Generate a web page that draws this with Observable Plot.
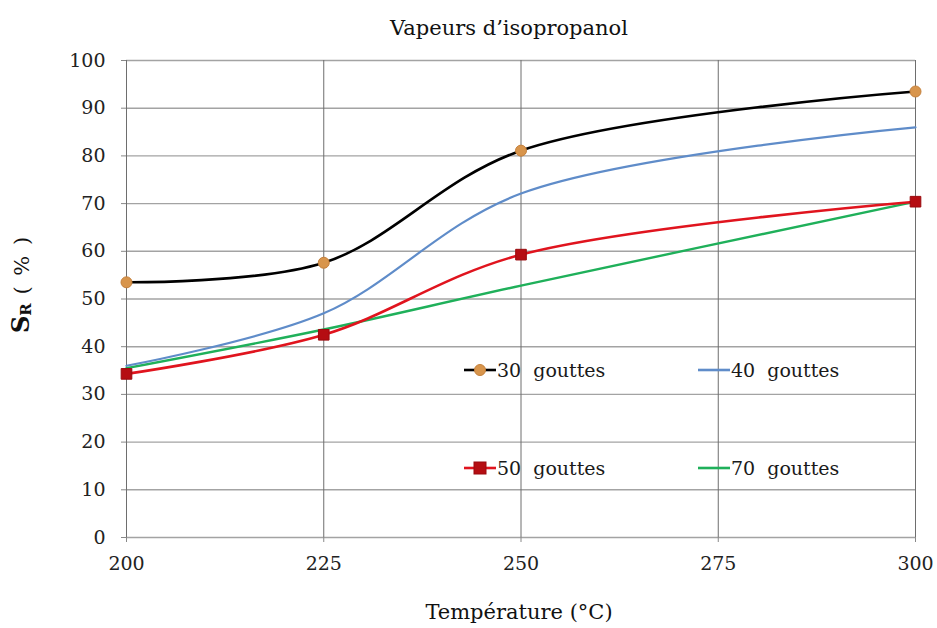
<!DOCTYPE html>
<html><head><meta charset="utf-8">
<script src="https://cdn.jsdelivr.net/npm/d3@7"></script>
<script src="https://cdn.jsdelivr.net/npm/@observablehq/plot@0.6"></script>
<style>
body{margin:0;background:#fff;}
#wrap{position:relative;width:937px;height:628px;font-family:"DejaVu Serif",serif;}
.leg{position:absolute;display:flex;align-items:center;font-size:19px;color:#1a1a1a;white-space:pre;font-family:"DejaVu Serif",serif;}
.leg svg{display:block;}
</style></head><body><div id="wrap"></div>
<script>
const temperatures = [200, 225, 250, 300];
const seriesNames = ["30  gouttes", "40  gouttes", "50  gouttes", "70  gouttes"];
const values30 = [53.5, 57.6, 81.1, 93.5];
const values40 = [36.0, 47.0, 72.1, 86.0];
const values50 = [34.3, 42.5, 59.3, 70.4];
const values70 = [35.5, 43.6, 52.8, 70.4];
const xTicks = [200, 225, 250, 275, 300];
const yTicks = [0, 10, 20, 30, 40, 50, 60, 70, 80, 90, 100];
const titleText = "Vapeurs d’isopropanol";
const xLabel = "Température (°C)";
const yLabel = "SR ( % )";

const lineColors = ["#000000", "#5f8cc9", "#e0141e", "#1fb05a"];
const allValues = [values30, values40, values50, values70];

const rows = [];
seriesNames.forEach((s, i) => temperatures.forEach((t, j) => rows.push({series: s, t, v: allValues[i][j]})));
const rowsOf = s => rows.filter(d => d.series === s);

const chart = Plot.plot({
  width: 937, height: 628,
  marginLeft: 126, marginRight: 22, marginTop: 60, marginBottom: 91,
  style: {fontFamily: "DejaVu Serif, serif", background: "#fff", color: "#222"},
  x: {domain: [200, 300]},
  y: {domain: [0, 100]},
  marks: [
    Plot.gridY(yTicks, {stroke: "#a3a3a3", strokeOpacity: 1, strokeWidth: 1.4}),
    Plot.gridX(xTicks, {stroke: "#6e6e6e", strokeOpacity: 1, strokeWidth: 1}),
    Plot.axisY(yTicks, {tickSize: 5, tickPadding: 16, fontSize: 19, label: null, stroke: "#888", fill: "#222"}),
    Plot.axisX(xTicks, {tickSize: 5, tickPadding: 14, fontSize: 19, label: null, stroke: "#888", fill: "#222"}),
    Plot.line(rowsOf(seriesNames[3]), {x: "t", y: "v", stroke: lineColors[3], strokeWidth: 2.4, curve: "catmull-rom"}),
    Plot.line(rowsOf(seriesNames[2]), {x: "t", y: "v", stroke: lineColors[2], strokeWidth: 2.6, curve: "catmull-rom"}),
    Plot.line(rowsOf(seriesNames[1]), {x: "t", y: "v", stroke: lineColors[1], strokeWidth: 2.2, curve: "catmull-rom"}),
    Plot.line(rowsOf(seriesNames[0]), {x: "t", y: "v", stroke: lineColors[0], strokeWidth: 2.6, curve: "catmull-rom"}),
    Plot.dot(rowsOf(seriesNames[2]), {x: "t", y: "v", symbol: "square", r: 6, fill: "#b50d12", stroke: "#9a0a0e", strokeWidth: 1}),
    Plot.dot(rowsOf(seriesNames[0]), {x: "t", y: "v", symbol: "circle", r: 5.5, fill: "#d8954c", stroke: "#c4803c", strokeWidth: 1}),
    Plot.text([titleText], {frameAnchor: "top", lineAnchor: "middle", textAnchor: "middle", dy: -32, dx: -12, fontSize: 21, fill: "#111"}),
    Plot.text([xLabel], {frameAnchor: "bottom", lineAnchor: "middle", textAnchor: "middle", dy: 75, dx: -2, fontSize: 21, fill: "#111"}),
    Plot.text([yLabel], {frameAnchor: "left", lineAnchor: "middle", textAnchor: "middle", dx: -104, dy: -15, rotate: -90, fontSize: 21, fill: "#111"})
  ]
});

// bold S with small R in the y label
d3.select(chart).selectAll("text").filter(function() { return this.textContent === yLabel; }).each(function() {
  const t = d3.select(this);
  t.text(null);
  t.append("tspan").attr("font-weight", "bold").attr("font-size", 24).text("S");
  t.append("tspan").attr("font-weight", "bold").attr("font-size", 15).attr("dy", "0.12em").text("R");
  t.append("tspan").attr("dy", "-0.12em").attr("letter-spacing", "2px").text(" ( % )");
});

const wrap = document.getElementById("wrap");
wrap.appendChild(chart);

const legendPos = [
  {left: 463, top: 370}, {left: 697, top: 370},
  {left: 463, top: 468}, {left: 697, top: 468}
];
seriesNames.forEach((s, i) => {
  const el = document.createElement("div");
  el.className = "leg";
  el.style.left = legendPos[i].left + "px";
  el.style.top = (legendPos[i].top - 12) + "px";
  let marker = "";
  if (i === 0) marker = '<circle cx="17" cy="12" r="5.5" fill="#d8954c" stroke="#c4803c"/>';
  if (i === 2) marker = '<rect x="11" y="6" width="12" height="12" fill="#b50d12" stroke="#9a0a0e"/>';
  el.innerHTML = `<svg width="34" height="24"><line x1="1" x2="33" y1="12" y2="12" stroke="${lineColors[i]}" stroke-width="2.6"/>${marker}</svg><span>${s}</span>`;
  wrap.appendChild(el);
});
</script></body></html>
